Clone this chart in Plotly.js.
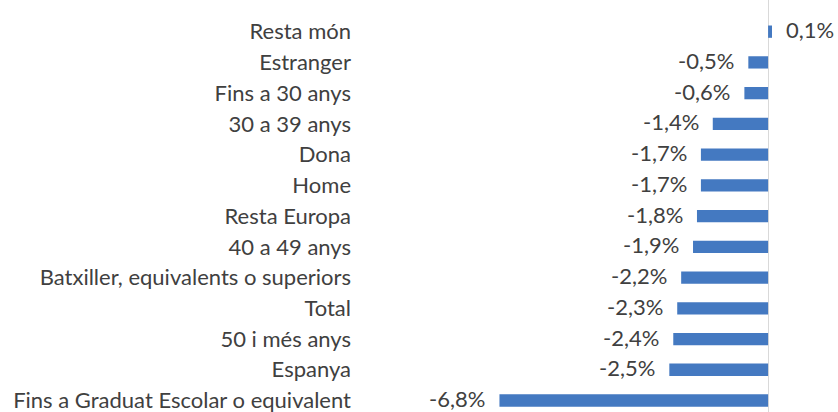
<!DOCTYPE html>
<html><head><meta charset="utf-8">
<script src="https://cdn.plot.ly/plotly-3.0.1.min.js"></script>
<style>html,body{margin:0;padding:0;background:#fff;}#chart{width:838px;height:412px;}</style>
</head><body><div id="chart"></div>
<script>
const categories = ["Resta món","Estranger","Fins a 30 anys","30 a 39 anys","Dona","Home","Resta Europa","40 a 49 anys","Batxiller, equivalents o superiors","Total","50 i més anys","Espanya","Fins a Graduat Escolar o equivalent"];
const values = [0.1,-0.5,-0.6,-1.4,-1.7,-1.7,-1.8,-1.9,-2.2,-2.3,-2.4,-2.5,-6.8];
const labels = values.map(v => v.toFixed(1).replace('.', ',') + '%');

const font = "Lato, 'Open Sans', sans-serif";
const annotations = values.map((v, i) => ({
  x: v, y: categories[i], xref: 'x', yref: 'y',
  text: labels[i], showarrow: false,
  xanchor: v < 0 ? 'right' : 'left',
  xshift: v < 0 ? -13 : 13,
  yshift: 2,
  borderpad: 0,
  font: {family: font, size: 22, color: '#404040'}
}));

Plotly.newPlot('chart', [{
  type: 'bar', orientation: 'h',
  x: values, y: categories,
  marker: {color: '#4479c1'},
  hoverinfo: 'none'
}], {
  width: 838, height: 412,
  margin: {l: 360, r: 0, t: 0, b: 0},
  paper_bgcolor: '#fff', plot_bgcolor: '#fff',
  bargap: 0.6,
  showlegend: false,
  xaxis: {range: [-10.33, 1.77], showgrid: false, zeroline: true, zerolinecolor: '#d9d9d9', zerolinewidth: 1, showticklabels: false, ticks: ''},
  yaxis: {type: 'category', range: [12.374, -1.03], showgrid: false, zeroline: false, ticks: '', ticklabelstandoff: 8,
    tickfont: {family: font, size: 22, color: '#404040'}},
  annotations: annotations
}, {staticPlot: true});
</script></body></html>
